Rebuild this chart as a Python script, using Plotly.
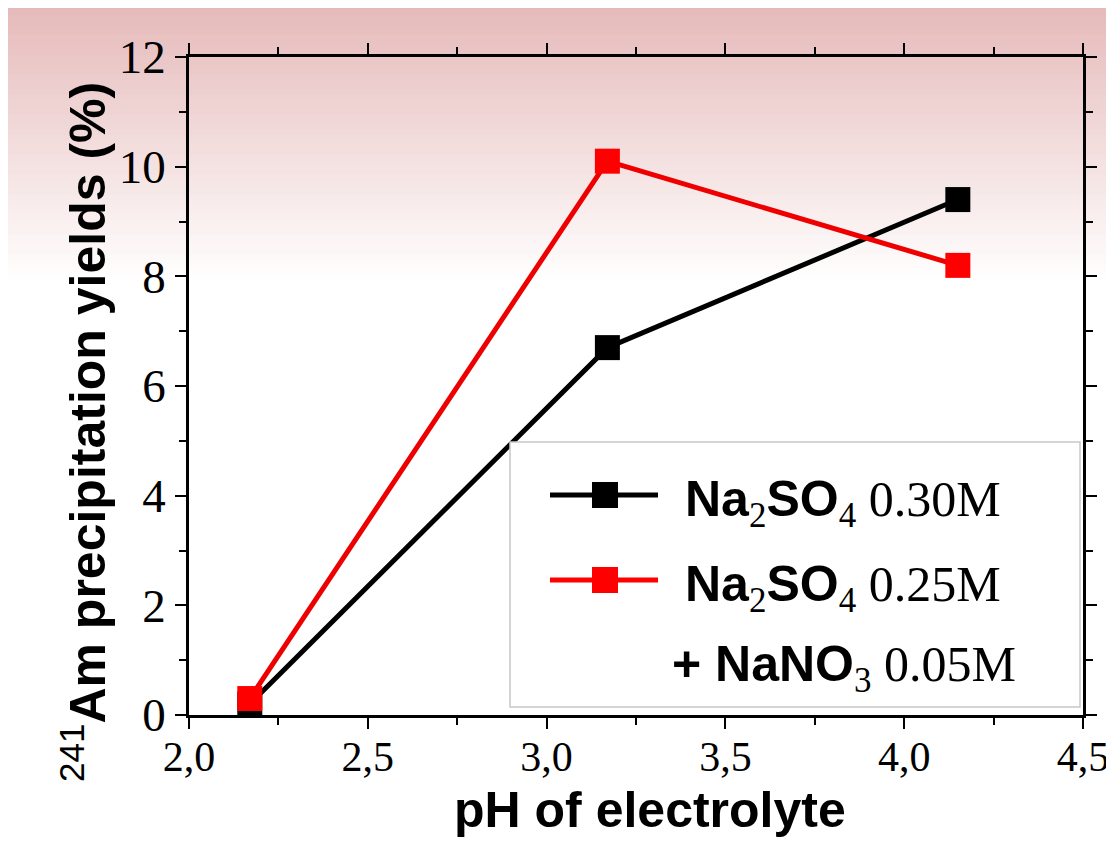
import plotly.graph_objects as go

# ---- data ----
ph = [2.17, 3.17, 4.15]
yield_so4_030 = [0.2, 6.7, 9.4]
yield_so4_025_no3 = [0.3, 10.1, 8.2]
x_ticks = [2.0, 2.5, 3.0, 3.5, 4.0, 4.5]
y_ticks = [0, 2, 4, 6, 8, 10, 12]

OFF = 8  # browser body margin
W, H = 1114 - OFF, 845 - 2 * OFF
# plot area in reference-page pixels
L, R, T, B = 189, 1083, 57, 715
pw, ph_ = R - L, B - T

def px(x):
    return (x - L) / pw

def py(y):
    return (B - y) / ph_

fig = go.Figure()
fig.add_trace(go.Scatter(x=ph, y=yield_so4_030, mode="lines+markers",
                         line=dict(color="black", width=5),
                         marker=dict(symbol="square", size=25, color="black"),
                         showlegend=False))
fig.add_trace(go.Scatter(x=ph, y=yield_so4_025_no3, mode="lines+markers",
                         line=dict(color="#ee0000", width=5),
                         marker=dict(symbol="square", size=25, color="#ff0000"),
                         showlegend=False))

shapes = []
# background gradient (pink to white)
top_c = (230, 186, 186)
n = 56
for i in range(n):
    t = i / (n - 1)
    c = tuple(int(round(top_c[k] * (1 - t) + 255 * t)) for k in range(3))
    y0p = 5 + i * 5
    shapes.append(dict(type="rect", xref="paper", yref="paper",
                       x0=px(0), x1=px(1114), y0=py(y0p + 5.5), y1=py(max(y0p, OFF)),
                       fillcolor="rgb(%d,%d,%d)" % c, line=dict(width=0), layer="below"))

# legend box
shapes.append(dict(type="rect", xref="paper", yref="paper",
                   x0=px(510), x1=px(1080), y0=py(707), y1=py(442),
                   fillcolor="white", line=dict(color="#c8c8c8", width=1.5), layer="above"))
for yy, col in [(495, "black"), (580, "#ff0000")]:
    shapes.append(dict(type="line", xref="paper", yref="paper",
                       x0=px(550), x1=px(658), y0=py(yy), y1=py(yy),
                       line=dict(color=col, width=5), layer="above"))
    shapes.append(dict(type="rect", xref="paper", yref="paper",
                       x0=px(592), x1=px(618), y0=py(yy + 13), y1=py(yy - 13),
                       fillcolor=col, line=dict(width=0), layer="above"))

SANS = "font-family:'Liberation Sans';font-weight:bold"
annotations = [
    dict(text="<sup>241</sup><b>Am precipitation yields (%)</b>", xref="paper", yref="paper",
         x=px(84), y=py(432), textangle=-90, showarrow=False,
         font=dict(family="Liberation Sans", size=50, color="black"),
         xanchor="center", yanchor="middle"),
    dict(text="<b>pH of electrolyte</b>", xref="paper", yref="paper",
         x=px(650), y=py(810), showarrow=False,
         font=dict(family="Liberation Sans", size=50, color="black"),
         xanchor="center", yanchor="middle"),
    dict(text="<span style=\"%s\">Na</span><sub>2</sub><span style=\"%s\">SO</span><sub>4</sub> 0.30M" % (SANS, SANS),
         xref="paper", yref="paper", x=px(683), y=py(503), showarrow=False,
         font=dict(family="Liberation Serif", size=50, color="black"),
         xanchor="left", yanchor="middle"),
    dict(text="<span style=\"%s\">Na</span><sub>2</sub><span style=\"%s\">SO</span><sub>4</sub> 0.25M" % (SANS, SANS),
         xref="paper", yref="paper", x=px(683), y=py(588), showarrow=False,
         font=dict(family="Liberation Serif", size=50, color="black"),
         xanchor="left", yanchor="middle"),
    dict(text="<span style=\"%s\">+ NaNO</span><sub>3</sub> 0.05M" % SANS,
         xref="paper", yref="paper", x=px(670), y=py(668), showarrow=False,
         font=dict(family="Liberation Serif", size=50, color="black"),
         xanchor="left", yanchor="middle"),
]

axis_common = dict(showline=True, linecolor="black", linewidth=2.5, mirror="allticks",
                   ticks="outside", ticklen=11, tickwidth=2, tickcolor="black",
                   showgrid=False, zeroline=False)

fig.update_layout(
    width=W, height=H,
    margin=dict(l=L - OFF, r=W + OFF - R, t=T - OFF, b=H + OFF - B, autoexpand=False),
    paper_bgcolor="white", plot_bgcolor="rgba(0,0,0,0)",
    separators=",.",
    showlegend=False,
    shapes=shapes, annotations=annotations,
    xaxis=dict(range=[2.0, 4.5], tickvals=x_ticks, tickformat=".1f",
               tickfont=dict(family="Liberation Serif", size=42, color="black"),
               ticklabelstandoff=-8,
               minor=dict(dtick=0.25, ticks="outside", ticklen=7, tickwidth=2, tickcolor="black"),
               **axis_common),
    yaxis=dict(range=[0, 12], tickvals=y_ticks,
               tickfont=dict(family="Liberation Serif", size=47, color="black"),
               minor=dict(dtick=1, ticks="outside", ticklen=7, tickwidth=2, tickcolor="black"),
               **axis_common),
)

fig.write_html("out.html")
